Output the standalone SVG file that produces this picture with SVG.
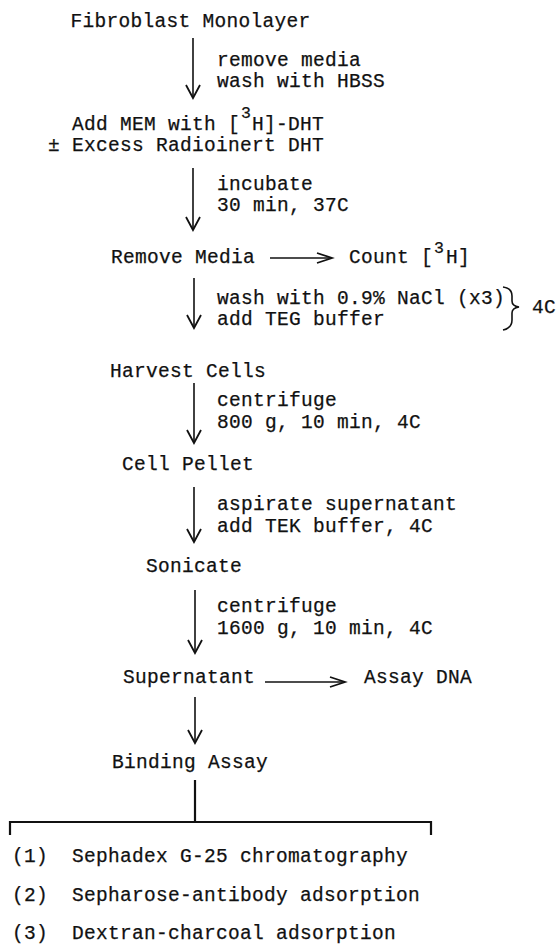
<svg xmlns="http://www.w3.org/2000/svg" width="559" height="946" viewBox="0 0 559 946">
<style>
text{font-family:"Liberation Mono","Courier New",monospace;font-size:19.5px;letter-spacing:0.3px;fill:#111;stroke:#111;stroke-width:0.25}
.sup{font-size:16.5px}
.ln{stroke:#111;stroke-width:1.6;fill:none}
.thick{stroke:#111;stroke-width:2.2;fill:none}
</style>
<defs>
<marker id="hv" viewBox="-15 -9 17 18" refX="0" refY="0" markerWidth="17" markerHeight="18" markerUnits="userSpaceOnUse" orient="auto" overflow="visible">
<path d="M-13,-7 L0,0 L-13,7" fill="none" stroke="#111" stroke-width="1.8"/>
</marker>
<marker id="hh" viewBox="-17 -7 19 14" refX="0" refY="0" markerWidth="19" markerHeight="14" markerUnits="userSpaceOnUse" orient="auto" overflow="visible">
<path d="M-15,-5 L0,0 L-15,5" fill="none" stroke="#111" stroke-width="1.8"/>
</marker>
</defs>
<rect width="559" height="946" fill="#fff"/>
<g id="nodes">
<g id="n-fibro"><text x="70.5" y="27">Fibroblast Monolayer</text></g>
<g id="n-addmem">
<text x="72" y="130">Add MEM with [<tspan class="sup" x="241" dy="-12">3</tspan><tspan x="252" dy="12">H]-DHT</tspan></text>
<text x="48" y="151">± Excess Radioinert DHT</text>
</g>
<g id="n-remove"><text x="111" y="263">Remove Media</text></g>
<g id="n-count"><text x="349" y="263">Count [<tspan class="sup" x="434" dy="-10">3</tspan><tspan x="446" dy="10">H]</tspan></text></g>
<g id="n-harvest"><text x="110" y="377">Harvest Cells</text></g>
<g id="n-pellet"><text x="122" y="470">Cell Pellet</text></g>
<g id="n-sonicate"><text x="146" y="572">Sonicate</text></g>
<g id="n-super"><text x="123" y="683">Supernatant</text></g>
<g id="n-dna"><text x="364" y="683">Assay DNA</text></g>
<g id="n-binding"><text x="112" y="768">Binding Assay</text></g>
<g id="n-methods">
<text x="12" y="862">(1)</text><text x="72" y="862">Sephadex G-25 chromatography</text>
<text x="12" y="901">(2)</text><text x="72" y="901">Sepharose-antibody adsorption</text>
<text x="12" y="939">(3)</text><text x="72" y="939">Dextran-charcoal adsorption</text>
</g>
</g>
<g id="labels">
<text x="217" y="66">remove media</text>
<text x="217" y="87">wash with HBSS</text>
<text x="217" y="190">incubate</text>
<text x="217" y="211">30 min, 37C</text>
<text x="217" y="304">wash with 0.9% NaCl (x3)</text>
<text x="217" y="325">add TEG buffer</text>
<text x="532" y="313">4C</text>
<text x="217" y="406">centrifuge</text>
<text x="217" y="428">800 g, 10 min, 4C</text>
<text x="217" y="510">aspirate supernatant</text>
<text x="217" y="532">add TEK buffer, 4C</text>
<text x="217" y="612">centrifuge</text>
<text x="217" y="634">1600 g, 10 min, 4C</text>
</g>
<g id="connectors">
<line class="ln" x1="193" y1="38" x2="193" y2="98" marker-end="url(#hv)"/>
<line class="ln" x1="193" y1="168" x2="193" y2="230" marker-end="url(#hv)"/>
<line class="ln" x1="194" y1="278" x2="194" y2="328" marker-end="url(#hv)"/>
<line class="ln" x1="194" y1="383" x2="194" y2="443" marker-end="url(#hv)"/>
<line class="ln" x1="194" y1="487" x2="194" y2="542" marker-end="url(#hv)"/>
<line class="ln" x1="195" y1="590" x2="195" y2="653" marker-end="url(#hv)"/>
<line class="ln" x1="195" y1="697" x2="195" y2="743" marker-end="url(#hv)"/>
<line class="ln" x1="270" y1="258" x2="332" y2="258" marker-end="url(#hh)"/>
<line class="ln" x1="265" y1="682" x2="345" y2="682" marker-end="url(#hh)"/>
<path class="ln" stroke-width="1.9" d="M503,287 Q512,288 512,296 L512,301 Q512,306 519,307 Q512,308 512,313 L512,320 Q512,328 503,330"/>
<line class="thick" x1="195" y1="780" x2="195" y2="822"/>
<path class="thick" d="M10,835 L10,822 L431,822 L431,835"/>
</g>
</svg>
